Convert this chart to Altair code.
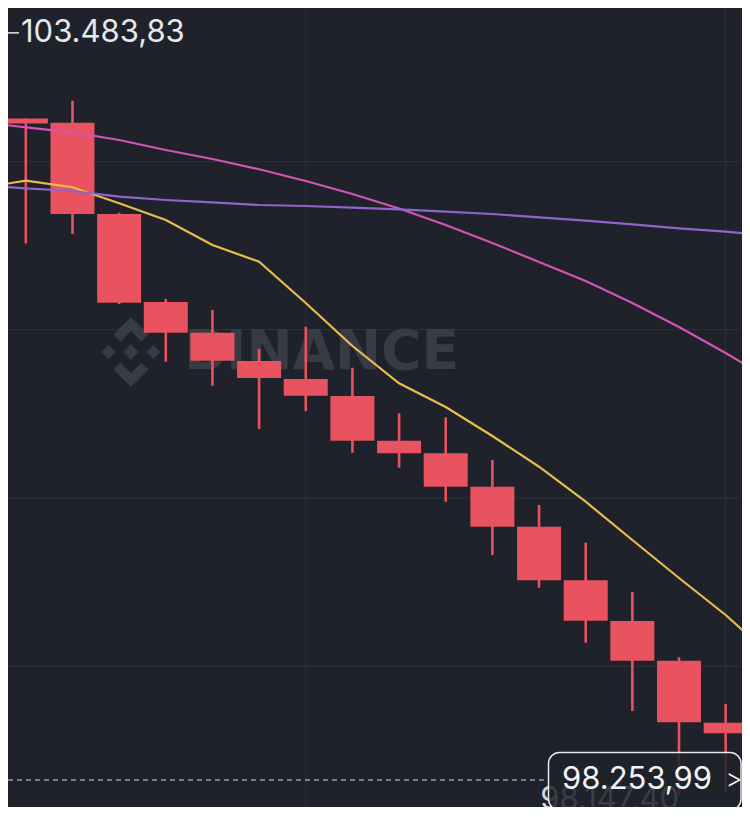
import altair as alt
import pandas as pd

# ---- data ----
candle_idx = list(range(16))
opens  = [102885, 102855, 102216, 101600, 101385, 101187, 101061, 100942, 100629, 100541, 100307, 100027, 99652, 99367, 99089, 98655]
highs  = [102885, 103009, 102225, 101621, 101544, 101271, 101427, 101140, 100821, 100793, 100494, 100179, 99915, 99570, 99113, 98786]
lows   = [102010, 102076, 101586, 101182, 101014, 100711, 100837, 100545, 100440, 100202, 99829, 99600, 99215, 98737, 98147.40, 98170]
closes = [102850, 102216, 101595, 101385, 101189, 101068, 100944, 100629, 100541, 100307, 100027, 99652, 99369, 99089, 98658, 98581]

ma_idx = list(range(-1, 17))
ma7  = [102398, 102449, 102403, 102291, 102174, 101999, 101882, 101593, 101292, 101031, 100865, 100662, 100447, 100202, 99934, 99668, 99409, 99115]
ma25 = [102860, 102823, 102788, 102734, 102664, 102601, 102529, 102447, 102356, 102254, 102139, 102013, 101880, 101747, 101593, 101425, 101243, 101047]
ma99 = [102419, 102396, 102377, 102337, 102314, 102298, 102279, 102272, 102261, 102249, 102232, 102216, 102193, 102169, 102144, 102116, 102092, 102065]

grid_prices = [99048, 100228, 101407, 102583]
grid_candles = [6, 15]

high_price, high_text = 103483.83, "103.483,83"
low_price, low_text, low_candle = 98147.40, "98.147,40", 14
last_price, last_text = 98253.99, "98.253,99"
watermark = "BINANCE"

# ---- style ----
BG = "#1f222a"
GRID = "#2e313a"
RED = "#e8535f"
W, H = 734, 799

xs = alt.Scale(domain=[-0.2748, 15.243], nice=False, zero=False)
ys = alt.Scale(domain=[98064.99, 103657.99], nice=False, zero=False)

candles = pd.DataFrame({"i": candle_idx, "open": opens, "high": highs, "low": lows, "close": closes})
ma = pd.concat([
    pd.DataFrame({"i": ma_idx, "v": ma7, "s": "MA7"}),
    pd.DataFrame({"i": ma_idx, "v": ma25, "s": "MA25"}),
    pd.DataFrame({"i": ma_idx, "v": ma99, "s": "MA99"}),
])

hgrid = alt.Chart(pd.DataFrame({"p": grid_prices})).mark_rule(color=GRID, strokeWidth=1).encode(
    y=alt.Y("p:Q", scale=ys, axis=None))
vgrid = alt.Chart(pd.DataFrame({"c": grid_candles})).mark_rule(color=GRID, strokeWidth=1).encode(
    x=alt.X("c:Q", scale=xs, axis=None))

logo_path = ("M0,-0.22L0.22,0L0,0.22L-0.22,0Z "
             "M-0.84,0L-0.64,-0.2L-0.44,0L-0.64,0.2Z "
             "M0.84,0L0.64,-0.2L0.44,0L0.64,0.2Z "
             "M0,-1L0.5,-0.5L0.3,-0.3L0,-0.6L-0.3,-0.3L-0.5,-0.5Z "
             "M0,1L0.5,0.5L0.3,0.3L0,0.6L-0.3,0.3L-0.5,0.5Z")
logo = alt.Chart(pd.DataFrame({"a": [0]})).mark_point(
    shape=logo_path, filled=True, color="#383b44", opacity=1, size=4900, strokeWidth=0
).encode(x=alt.value(123), y=alt.value(344))
wm = alt.Chart(pd.DataFrame({"t": [watermark]})).mark_text(
    font="DejaVu Sans", fontWeight="bold", fontSize=55, color="#383b44", align="left", baseline="middle"
).encode(x=alt.value(176), y=alt.value(344), text="t:N")

wicks = alt.Chart(candles).mark_rule(color=RED, strokeWidth=2.6, clip=True).encode(
    x=alt.X("i:Q", scale=xs, axis=None),
    y=alt.Y("low:Q", scale=ys, axis=None), y2="high:Q")
bodies = alt.Chart(candles).mark_bar(color=RED, size=44, clip=True).encode(
    x=alt.X("i:Q", scale=xs, axis=None),
    y=alt.Y("open:Q", scale=ys, axis=None), y2="close:Q")

lines = alt.Chart(ma).mark_line(strokeWidth=2.2, clip=True).encode(
    x=alt.X("i:Q", scale=xs, axis=None),
    y=alt.Y("v:Q", scale=ys, axis=None),
    color=alt.Color("s:N", scale=alt.Scale(domain=["MA7", "MA25", "MA99"],
                                            range=["#e9bd4c", "#d453b6", "#8c66c8"]), legend=None),
    detail="s:N")

# high marker
high_df = pd.DataFrame({"p": [high_price], "t": [high_text]})
high_line = alt.Chart(high_df).mark_rule(color="#e6e8ea", strokeWidth=1.5).encode(
    y=alt.Y("p:Q", scale=ys, axis=None), x=alt.value(0), x2=alt.value(11))
high_lbl = alt.Chart(high_df).mark_text(
    font="Inter", fontSize=31, color="#e6e8ea", align="left", baseline="middle"
).encode(y=alt.Y("p:Q", scale=ys, axis=None), x=alt.value(13), text="t:N")

# low marker (behind the last-price box)
low_df = pd.DataFrame({"c": [low_candle], "p": [low_price], "t": [low_text]})
low_lbl = alt.Chart(low_df).mark_text(
    font="Inter", fontSize=31, color="#d5d7da", align="right", baseline="middle", dy=5
).encode(x=alt.X("c:Q", scale=xs, axis=None), y=alt.Y("p:Q", scale=ys, axis=None), text="t:N")

# last price line + box
last_df = pd.DataFrame({"p": [last_price], "t": [last_text]})
last_line = alt.Chart(last_df).mark_rule(color="#d8dadd", strokeWidth=1, strokeDash=[5, 4]).encode(
    y=alt.Y("p:Q", scale=ys, axis=None), x=alt.value(0), x2=alt.value(540))
box = alt.Chart(last_df).mark_rect(
    fill=BG, fillOpacity=0.85, stroke="#e6e8ea", strokeWidth=1.5, cornerRadius=11
).encode(x=alt.value(540.5), x2=alt.value(733), y=alt.value(744.5), y2=alt.value(802))
last_lbl = alt.Chart(last_df).mark_text(
    font="Inter", fontSize=31, color="#f2f3f5", align="left", baseline="middle"
).encode(y=alt.Y("p:Q", scale=ys, axis=None), x=alt.value(554), text="t:N")
arrow = alt.Chart(last_df).mark_text(
    font="Inter", fontSize=26, fontWeight=300, color="#f2f3f5", align="center", baseline="middle", text=">"
).encode(y=alt.Y("p:Q", scale=ys, axis=None), x=alt.value(726))

chart = alt.layer(
    hgrid, vgrid, logo, wm, wicks, bodies, lines,
    high_line, high_lbl, last_line, low_lbl, box, last_lbl, arrow
).properties(
    width=W, height=H, padding=0, background=BG,
    autosize=alt.AutoSizeParams(type="none")
).configure_view(stroke=None, fill=BG)

chart.save("out.html", embed_options={"renderer": "svg", "actions": False})
